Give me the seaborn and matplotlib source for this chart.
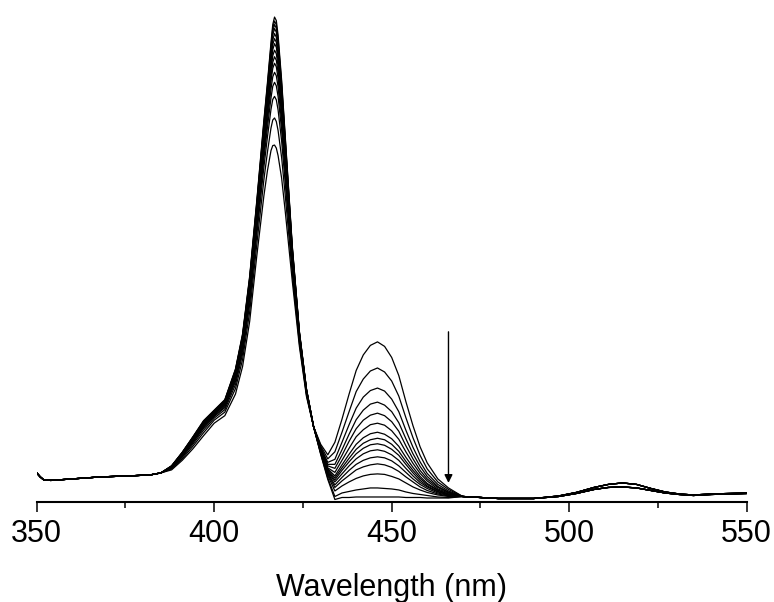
import pandas as pd
import matplotlib
matplotlib.use("Agg")
import matplotlib.pyplot as plt
import seaborn as sns
from matplotlib.ticker import MultipleLocator


# ==============================
# DATA
# ==============================
# shared blue edge, identical for every scan
wl_left = [350, 351, 352, 354, 360, 368, 376, 382, 385]
base_left = [0.058, 0.050, 0.044, 0.043, 0.046, 0.050, 0.052, 0.054, 0.058]

# Soret / 445 nm region, one row per scan (first scan -> last scan)
wl_mid = [388, 391, 394, 397, 400, 403, 406, 408, 410, 412,
          414, 415, 416, 416.5, 417, 417.5, 418, 419, 420, 422, 424, 426,
          428, 430, 432, 434, 436, 438, 440, 442, 444, 446,
          448, 450, 452, 454, 456, 458, 460, 463, 466]

spectra_mid = [
    [.064, .083, .106, .132, .157, .172, .215, .270, .360, .490, .610, .660, .700, .710, .711, .705, .690, .645, .580, .440, .310, .210,
     .150, .115, .094, .119, .165, .215, .262, .293, .312, .319, .310, .288, .252, .200, .152, .110, .078, .046, .028],
    [.066, .086, .111, .138, .163, .179, .226, .284, .379, .513, .642, .697, .745, .761, .765, .758, .740, .686, .612, .455, .316, .213,
     .150, .112, .086, .100, .139, .180, .220, .245, .261, .267, .259, .241, .211, .168, .128, .093, .066, .040, .025],
    [.067, .089, .115, .143, .167, .184, .234, .295, .394, .532, .667, .727, .782, .802, .808, .801, .781, .719, .637, .467, .321, .216,
     .150, .109, .079, .085, .119, .154, .187, .209, .222, .227, .221, .205, .180, .143, .109, .080, .057, .035, .022],
    [.068, .091, .118, .147, .170, .188, .240, .302, .404, .544, .684, .746, .805, .828, .836, .829, .808, .741, .654, .474, .325, .217,
     .150, .107, .075, .075, .104, .135, .164, .183, .195, .199, .193, .180, .158, .126, .096, .071, .051, .031, .020],
    [.069, .092, .120, .149, .172, .190, .244, .307, .411, .553, .696, .760, .823, .847, .856, .849, .827, .756, .666, .480, .327, .219,
     .150, .106, .072, .067, .093, .121, .146, .163, .173, .177, .172, .160, .141, .112, .086, .063, .046, .029, .019],
    [.069, .093, .121, .151, .174, .193, .247, .312, .418, .560, .706, .772, .838, .864, .874, .867, .844, .770, .676, .485, .329, .220,
     .150, .105, .068, .059, .083, .107, .130, .144, .154, .157, .153, .142, .125, .100, .077, .057, .042, .026, .018],
    [.070, .094, .123, .153, .175, .194, .250, .315, .422, .566, .714, .781, .848, .876, .887, .880, .856, .780, .684, .488, .331, .220,
     .150, .103, .066, .052, .074, .095, .115, .128, .136, .139, .135, .126, .111, .089, .069, .051, .037, .024, .016],
    [.070, .095, .124, .154, .176, .196, .252, .318, .427, .571, .721, .790, .859, .889, .900, .893, .868, .789, .691, .492, .332, .221,
     .150, .103, .064, .048, .068, .087, .105, .117, .124, .127, .124, .115, .101, .081, .063, .047, .035, .023, .016],
    [.070, .096, .125, .156, .178, .197, .255, .321, .431, .577, .729, .798, .870, .901, .913, .906, .880, .799, .699, .495, .334, .222,
     .150, .102, .062, .044, .063, .080, .096, .107, .114, .116, .113, .105, .093, .075, .058, .043, .032, .021, .015],
    [.071, .096, .126, .157, .179, .199, .257, .324, .435, .581, .735, .805, .879, .911, .923, .916, .889, .807, .705, .498, .335, .223,
     .150, .101, .060, .040, .056, .072, .086, .096, .102, .104, .101, .094, .083, .067, .052, .039, .030, .020, .014],
    [.071, .097, .127, .158, .180, .200, .259, .327, .438, .586, .741, .812, .887, .920, .933, .926, .899, .815, .711, .501, .336, .223,
     .150, .100, .058, .034, .049, .063, .075, .083, .088, .090, .088, .082, .072, .059, .046, .035, .027, .018, .013],
    [.071, .098, .128, .159, .181, .201, .261, .329, .442, .590, .747, .819, .896, .930, .943, .936, .908, .823, .717, .504, .337, .224,
     .150, .099, .056, .029, .042, .053, .064, .070, .074, .076, .074, .069, .061, .050, .040, .030, .023, .016, .012],
    [.072, .098, .129, .160, .181, .202, .262, .331, .445, .593, .751, .825, .902, .937, .951, .944, .916, .828, .721, .506, .338, .224,
     .150, .098, .053, .022, .032, .040, .047, .052, .055, .056, .055, .051, .046, .038, .030, .024, .019, .014, .011],
    [.072, .099, .129, .161, .182, .203, .264, .333, .447, .597, .756, .830, .909, .944, .958, .951, .923, .834, .726, .508, .339, .225,
     .150, .096, .048, .011, .018, .021, .024, .026, .028, .028, .027, .026, .024, .020, .017, .015, .013, .010, .009],
    [.072, .099, .130, .162, .183, .204, .265, .335, .450, .600, .760, .835, .915, .951, .966, .959, .930, .840, .730, .510, .340, .225,
     .150, .095, .045, .005, .009, .009, .010, .010, .010, .010, .010, .010, .010, .009, .009, .009, .008, .008, .008],
]

# red edge with the weak Q band near 514 nm
wl_right = [470, 475, 480, 490, 497, 502, 507, 511, 515, 519, 523, 527, 531, 535, 540, 545, 550]
qband_low = [.011, .009, .007, .007, .011, .017, .025, .029, .030, .028, .023, .018, .015, .013, .015, .016, .017]
qband_high = [.011, .009, .007, .007, .012, .019, .029, .035, .038, .035, .027, .020, .016, .014, .016, .017, .018]

# arrow marking the decrease of the 445 nm band
arrow_wl = 466
arrow_from = 0.339
arrow_to = 0.038


# ==============================
# BUILD LONG TABLE
# ==============================
rows = []
for k, mid in enumerate(spectra_mid):
    tail = qband_high if k >= 8 else qband_low
    wl = wl_left + wl_mid + wl_right
    ab = base_left + mid + tail
    for w, a in zip(wl, ab):
        rows.append((k, w, a))
df = pd.DataFrame(rows, columns=["scan", "wavelength", "absorbance"])


# ==============================
# PLOT
# ==============================
sns.set_theme(style="ticks", rc={"axes.edgecolor": "black", "xtick.color": "black"})
plt.rcParams["font.family"] = ["Liberation Sans", "DejaVu Sans"]

fig = plt.figure(figsize=(7.74, 6.02), dpi=100)
ax = fig.add_axes([0.0474, 0.1661, 0.9173, 0.8339])

sns.lineplot(data=df, x="wavelength", y="absorbance", units="scan", estimator=None,
             sort=False, color="black", lw=0.9, ax=ax)

ax.annotate("", xy=(arrow_wl, arrow_to), xytext=(arrow_wl, arrow_from),
            arrowprops=dict(arrowstyle="-|>", color="black", lw=1.0,
                            mutation_scale=12, shrinkA=0, shrinkB=0))

ax.set_xlim(350, 550)
ax.set_ylim(0, 1.0)
ax.set_yticks([])
ax.set_ylabel("")
for side in ["left", "top", "right"]:
    ax.spines[side].set_visible(False)
ax.spines["bottom"].set_linewidth(1.5)

ax.xaxis.set_major_locator(MultipleLocator(50))
ax.xaxis.set_minor_locator(MultipleLocator(25))
ax.tick_params(axis="x", which="major", direction="out", length=7.5, width=1.1,
               labelsize=22, pad=5, colors="black")
ax.tick_params(axis="x", which="minor", direction="out", length=4.5, width=1.1)
ax.set_xlabel("Wavelength (nm)", fontsize=22, labelpad=17, color="black")

fig.savefig("out.png", dpi=100)
